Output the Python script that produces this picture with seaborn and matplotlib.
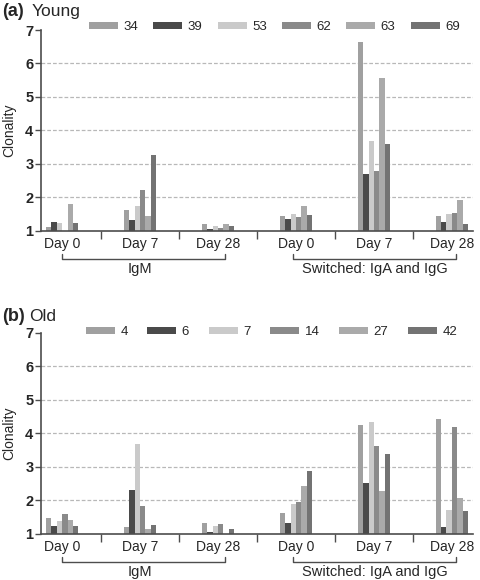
import numpy as np
import pandas as pd
import matplotlib
matplotlib.use('Agg')
import matplotlib.pyplot as plt
import matplotlib.transforms as mtransforms
from matplotlib.patches import Patch
import seaborn as sns

# categories (unique keys) and their printed labels
groups = ['IgM D0', 'IgM D7', 'IgM D28', 'Sw D0', 'Sw D7', 'Sw D28']
day_labels = ['Day 0', 'Day 7', 'Day 28', 'Day 0', 'Day 7', 'Day 28']

# (a) Young donors, one row per donor, values per group
young_donors = ['34', '39', '53', '62', '63', '69']
young_values = [
    [1.10, 1.62, 1.18, 1.43, 6.63, 1.43],
    [1.25, 1.31, 1.03, 1.33, 2.69, 1.25],
    [1.22, 1.72, 1.14, 1.48, 3.67, 1.50],
    [np.nan, 2.20, 1.08, 1.41, 2.78, 1.53],
    [1.78, 1.42, 1.19, 1.72, 5.57, 1.90],
    [1.22, 3.27, 1.13, 1.47, 3.59, 1.19],
]

# (b) Old donors
old_donors = ['4', '6', '7', '14', '27', '42']
old_values = [
    [1.46, 1.19, 1.31, 1.62, 4.25, 4.43],
    [1.22, 2.30, 1.04, 1.31, 2.51, 1.19],
    [1.38, 3.69, 1.22, 1.89, 4.34, 1.70],
    [1.58, 1.83, 1.28, 1.95, 3.61, 4.18],
    [1.40, 1.14, np.nan, 2.42, 2.28, 2.07],
    [1.22, 1.25, 1.14, 2.87, 3.39, 1.68],
]

bar_colors = ['#a0a0a0', '#4a4a4a', '#cacaca', '#8a8a8a', '#aaaaaa', '#737373']
line_color = '#4d4d4d'

sns.set_theme(style='ticks')
plt.rcParams['font.family'] = ['Liberation Sans', 'DejaVu Sans']


def long_table(donors, values):
    rows = []
    for d, vals in zip(donors, values):
        for g, v in zip(groups, vals):
            rows.append({'group': g, 'donor': d, 'clonality': v})
    return pd.DataFrame(rows)


def draw_panel(ax, donors, values, leg_x, leg_y, colspace):
    df = long_table(donors, values)
    sns.barplot(data=df, x='group', y='clonality', hue='donor', order=groups,
                hue_order=donors, palette=bar_colors, width=0.42, linewidth=0,
                saturation=1, errorbar=None, legend=False, ax=ax)
    ax.set_ylim(1, 7)
    ax.set_xlim(-0.27, 5.27)
    for y in range(2, 7):
        ax.axhline(y, color='#b8b8b8', lw=0.9, ls=(0, (3, 1.6)), zorder=0.5)

    ax.set_yticks(range(1, 8))
    ax.tick_params(axis='y', length=4, width=1, color=line_color, pad=1.5,
                   labelsize=10.5)
    for t in ax.get_yticklabels():
        t.set_fontweight('bold')
    ax.set_ylabel('Clonality', fontsize=10)
    ax.yaxis.set_label_coords(-0.058, 0.5)
    ax.set_xlabel('')

    ax.set_xticks([0.5, 1.5, 2.5, 3.5, 4.5])
    ax.set_xticklabels([])
    ax.set_xticks(range(6), minor=True)
    ax.set_xticklabels(day_labels, minor=True)
    ax.tick_params(axis='x', which='major', length=6, width=1, color=line_color)
    ax.tick_params(axis='x', which='minor', length=0, pad=5, labelsize=10)

    sns.despine(ax=ax)
    for s in ['left', 'bottom']:
        ax.spines[s].set_color(line_color)
        ax.spines[s].set_linewidth(1.2)

    # brackets under the day labels
    trans = mtransforms.blended_transform_factory(ax.transData, ax.transAxes)
    for x0, x1, name, xc in [(0.0, 2.09, 'IgM', 1.0),
                             (2.96, 5.05, 'Switched: IgA and IgG', 4.01)]:
        ax.plot([x0, x0, x1, x1], [-0.117, -0.14, -0.14, -0.117], transform=trans,
                clip_on=False, color=line_color, lw=1)
        ax.text(xc, -0.19, name, transform=trans, ha='center', va='center',
                fontsize=10.5)

    handles = [Patch(facecolor=c, edgecolor='none') for c in bar_colors]
    ax.legend(handles, donors, ncol=6, loc='center left',
              bbox_to_anchor=(leg_x, leg_y), frameon=False, fontsize=9.5,
              handlelength=2.2, handleheight=0.45, handletextpad=0.4,
              columnspacing=colspace, borderpad=0, borderaxespad=0)


fig = plt.figure(figsize=(4.8, 5.8), dpi=100)
ax_a = fig.add_axes([41 / 480, 1 - 230.5 / 580, 432 / 480, 200.5 / 580])
ax_b = fig.add_axes([41 / 480, 1 - 533.5 / 580, 432 / 480, 200.5 / 580])

draw_panel(ax_a, young_donors, young_values, 0.111, 1.015, 1.16)
draw_panel(ax_b, old_donors, old_values, 0.104, 1.004, 1.5)

fig.text(2 / 480, 1 - 16 / 580, '(a)', fontsize=13, fontweight='bold')
fig.text(32 / 480, 1 - 16 / 580, 'Young', fontsize=12.5)
fig.text(2 / 480, 1 - 321 / 580, '(b)', fontsize=13, fontweight='bold')
fig.text(29 / 480, 1 - 321 / 580, 'Old', fontsize=12.5)

fig.savefig('out.png', dpi=100)
